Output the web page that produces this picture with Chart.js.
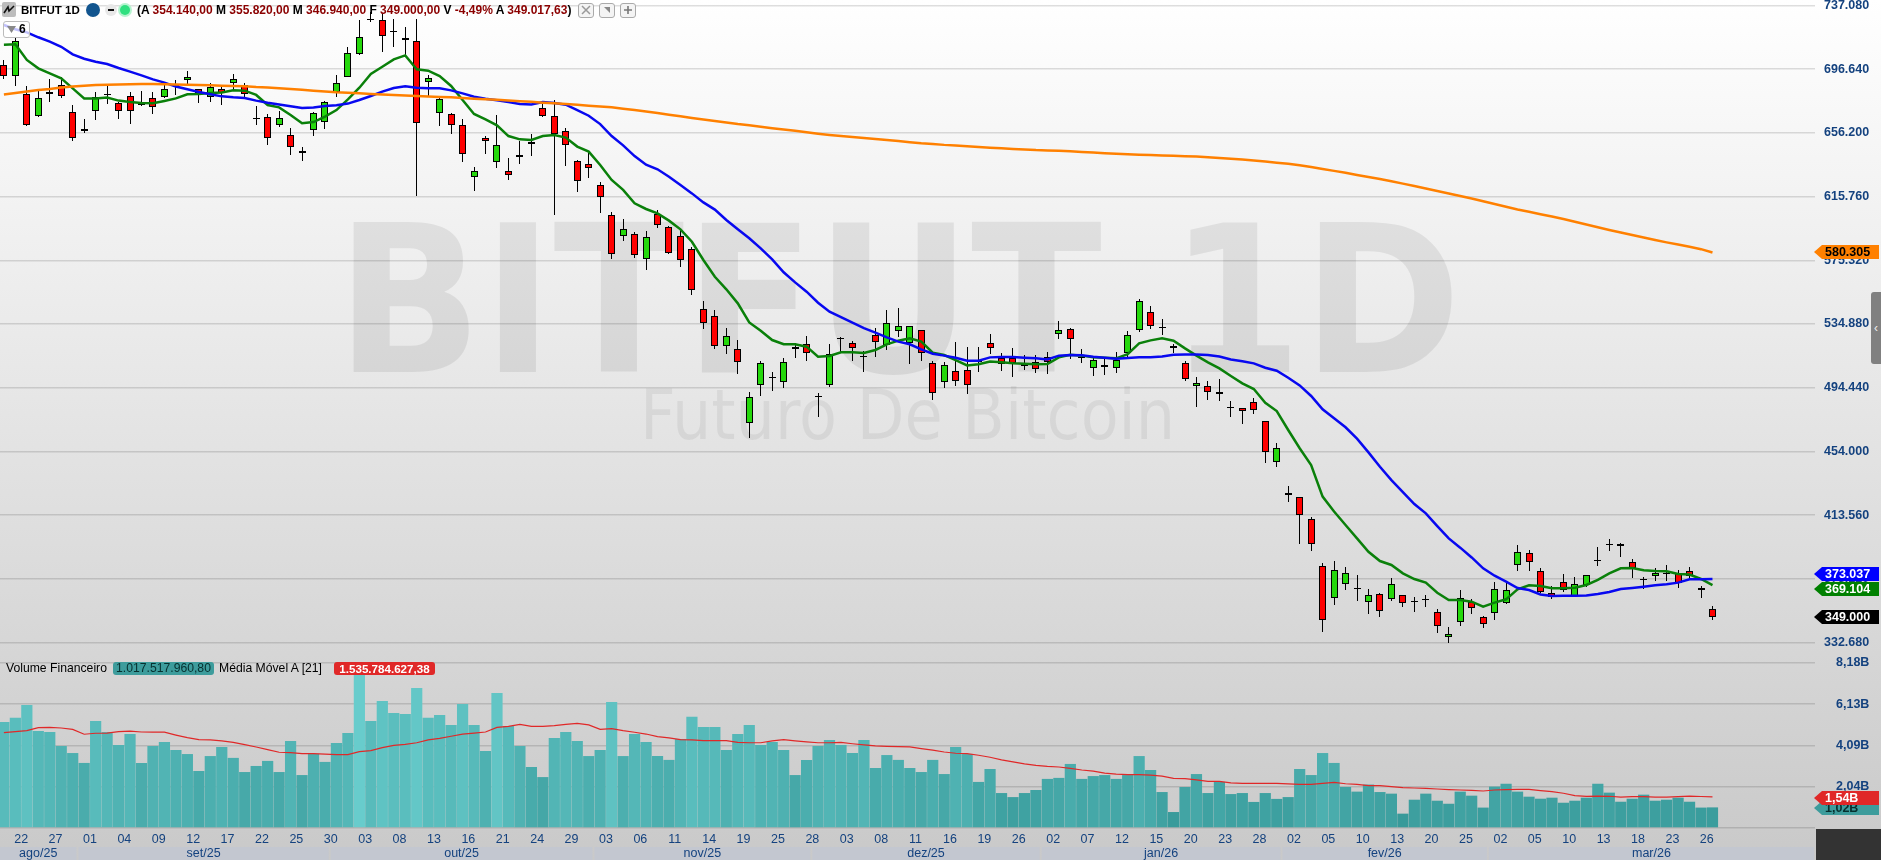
<!DOCTYPE html>
<html>
<head>
<meta charset="utf-8">
<title>BITFUT 1D</title>
<script src="https://cdn.jsdelivr.net/npm/chart.js@4"></script>
<style>
	html, body { margin: 0; padding: 0; overflow: hidden; }
	#stage { position: relative; width: 1881px; height: 860px; overflow: hidden;
		background: linear-gradient(#ffffff, #c9c9c9); font-family: "Liberation Sans", Arial, sans-serif; }
	#stage div, #stage svg { position: absolute; white-space: nowrap; }
	#graph { position: absolute; left: 0; top: 0; }
	.wmBig { left: 336px; top: 181px; font: bold 205px/240px "DejaVu Sans Condensed", "DejaVu Sans", sans-serif; color: rgba(0,0,0,0.075);
		transform: scaleX(1.04); transform-origin: left top; }
	.wmSmall { left: 640px; top: 375px; font: 69px/80px "DejaVu Sans Condensed", sans-serif; color: rgba(0,0,0,0.06); }
	.hdr { top: 3px; height: 14px; line-height: 14px; font-size: 12px; font-weight: bold; color: #000; }
	.hdr i { font-style: normal; color: #8b0000; }
	.ind { top: 662px; height: 13px; line-height: 13px; font-size: 12.2px; color: #000; }
	.pill { border-radius: 3px; text-align: center; }
	.btn { top: 3px; width: 14px; height: 13px; border: 1px solid #aaa; border-radius: 3px; background: #f4f4f4; }
</style>
</head>
<body>
<div id="stage">
	<div class="wmBig">BITFUT 1D</div>
	<div class="wmSmall">Futuro De Bitcoin</div>
	<canvas id="graph" width="1881" height="860"></canvas>

	<div style="left:2px;top:2px;width:14px;height:15px;background:#bdbdbd;border-radius:2px"></div>
	<svg style="left:3px;top:4px" width="12" height="11"><path d="M1 9 L5 3 L6 7 L11 2" stroke="#111" stroke-width="1.6" fill="none"/></svg>
	<div class="hdr" style="left:21px;font-size:11.5px">BITFUT 1D</div>
	<div style="left:86px;top:3px;width:14px;height:14px;border-radius:7px;background:#12558f"></div>
	<div style="left:105px;top:4px;width:12px;height:12px;border-radius:6px;background:#e8e8e8"></div>
	<div style="left:108px;top:9px;width:6px;height:2px;background:#111"></div>
	<div style="left:118px;top:3px;width:14px;height:14px;border-radius:7px;background:#b5f3cf"></div>
	<div style="left:120px;top:5px;width:10px;height:10px;border-radius:5px;background:#2fe07f"></div>
	<div class="hdr" style="left:137px">(A <i>354.140,00</i> M <i>355.820,00</i> M <i>346.940,00</i> F <i>349.000,00</i> V <i>-4,49%</i> A <i>349.017,63</i>)</div>
	<div class="btn" style="left:578px"></div>
	<div class="btn" style="left:599px"></div>
	<div class="btn" style="left:620px"></div>
	<svg style="left:581px;top:5px" width="10" height="10"><path d="M1 1 L9 9 M9 1 L1 9" stroke="#999" stroke-width="1.5"/></svg>
	<svg style="left:602px;top:5px" width="10" height="10"><path d="M2 2 L8 2 L8 8 Z" fill="#888"/></svg>
	<svg style="left:623px;top:5px" width="10" height="10"><path d="M5 1 L5 9 M1 5 L9 5" stroke="#777" stroke-width="1.6"/></svg>

	<div style="left:3px;top:21px;width:25px;height:15px;border:1px solid #bbb;border-radius:3px;background:rgba(255,255,255,0.75)"></div>
	<svg style="left:7px;top:26px" width="10" height="8"><path d="M0 0 L9 0 L4.5 7 Z" fill="#888"/></svg>
	<div style="left:19px;top:22px;font-size:12px;line-height:15px;font-weight:bold;color:#000">6</div>

	<div class="ind" style="left:6px">Volume Financeiro</div>
	<div class="ind pill" style="left:113px;width:101px;background:#3d9c9c;color:#06302f">1.017.517.960,80</div>
	<div class="ind" style="left:219px">Média Móvel A [21]</div>
	<div class="ind pill" style="left:334px;width:101px;background:#e02828;color:#fff;font-weight:bold;font-size:11.6px">1.535.784.627,38</div>

	<div style="left:1871px;top:292px;width:10px;height:72px;background:#808080;border-radius:3px 0 0 3px;color:#eee;font-size:12px;line-height:72px;text-align:center">‹</div>
	<div style="left:1816px;top:829px;width:65px;height:31px;background:#333333"></div>
</div>

<script>
// preços em milhares, um valor por pregão (150 candles)
const opens = [
	699.1,692.1,680.7,666.7,681.9,686.4,669.3,658.5,669.9,680.9,
	675.0,679.8,674.8,678.1,678.8,686.8,689.6,683.9,679.0,683.9,
	687.7,686.8,665.8,666.5,661.4,654.7,644.5,658.0,662.9,682.4,
	691.9,706.1,728.7,727.7,721.1,716.2,714.7,688.3,668.6,668.0,
	661.0,628.0,652.8,637.5,631.8,641.9,650.2,671.8,667.1,657.6,
	638.6,636.2,622.9,603.9,591.0,592.2,575.9,604.7,596.2,590.5,
	582.3,544.2,540.2,520.9,518.8,471.8,495.9,501.2,497.9,518.8,
	522.4,489.4,496.4,526.0,522.6,514.5,527.7,521.6,530.2,522.6,
	530.9,510.3,497.9,505.3,505.9,511.3,523.0,513.5,513.5,509.2,
	510.9,514.1,528.3,531.5,514.1,507.2,508.6,506.7,516.3,531.3,
	542.7,533.2,520.7,509.9,495.3,495.7,490.2,482.2,481.3,485.1,
	473.1,447.1,427.4,424.8,410.9,381.0,360.7,369.6,367.5,358.2,
	363.3,360.1,362.6,359.0,360.3,351.8,336.0,345.5,358.2,349.1,
	351.2,357.5,381.7,389.3,378.3,364.3,370.9,362.4,369.4,385.3,
	395.4,395.0,384.0,373.0,375.1,377.0,377.0,378.3,367.1,354.14
];
const highs = [
	702.5,716.2,686.0,683.4,690.4,691.5,673.9,665.0,681.9,686.0,
	676.0,681.9,682.8,681.9,686.6,689.8,695.5,683.9,687.7,685.1,
	693.6,688.1,673.3,668.2,670.3,659.1,647.0,669.7,676.4,693.0,
	711.0,727.9,733.2,732.1,728.5,723.2,728.5,693.0,678.1,668.6,
	664.8,634.3,654.2,667.6,640.1,651.3,655.5,674.6,677.1,659.1,
	639.0,644.3,625.2,606.0,601.5,593.1,593.9,607.2,597.3,594.6,
	584.0,549.5,543.8,532.3,524.7,491.5,511.4,504.6,513.1,523.0,
	527.3,490.9,521.9,526.6,524.1,517.7,532.1,543.8,544.8,533.4,
	531.1,511.6,510.8,523.2,520.3,520.1,528.7,516.3,519.4,515.2,
	515.2,517.3,536.6,532.1,519.0,513.7,514.1,516.9,530.4,550.5,
	546.3,538.0,522.0,511.4,501.0,498.7,499.7,486.0,481.3,487.9,
	473.1,459.1,432.0,424.8,412.1,382.9,384.4,380.4,375.5,366.6,
	364.3,373.4,362.6,361.8,362.8,353.7,342.7,366.0,360.1,349.5,
	371.3,371.7,394.6,391.4,379.8,368.6,376.0,374.1,375.7,393.1,
	398.2,395.6,385.5,374.5,379.8,381.9,378.7,380.8,368.5,355.82
];
const lows = [
	690.2,686.0,660.6,666.1,676.0,678.3,651.3,655.9,664.4,674.8,
	665.0,661.9,673.5,668.2,678.1,680.3,686.0,675.4,676.0,673.9,
	683.9,678.8,661.2,648.5,660.2,642.2,638.6,654.2,658.7,678.8,
	691.5,705.4,726.6,707.8,711.0,705.6,616.4,678.8,660.6,655.5,
	637.9,619.5,643.0,634.1,626.3,636.5,641.5,666.1,604.1,635.4,
	618.9,627.8,605.6,576.4,587.6,576.6,569.2,595.6,579.1,570.9,
	553.5,531.9,518.8,516.0,503.4,462.5,489.4,492.6,494.0,513.5,
	511.6,476.0,495.1,516.7,511.6,504.6,514.1,518.4,526.8,509.7,
	511.6,486.6,494.0,495.7,490.7,504.6,515.8,505.2,501.4,505.7,
	504.0,503.1,525.3,512.4,510.3,501.9,502.5,504.0,514.1,530.0,
	531.9,527.9,516.2,498.9,482.4,486.6,486.2,475.8,471.6,477.8,
	446.6,444.1,421.9,395.2,391.0,339.6,356.5,366.0,359.0,351.0,
	349.1,359.2,355.4,352.2,355.4,338.7,332.6,343.4,351.0,342.1,
	347.2,357.1,378.3,378.3,363.9,360.5,365.0,361.8,367.7,381.5,
	391.0,387.2,373.8,366.9,371.9,371.9,367.5,373.0,361.1,346.94
];
const closes = [
	692.3,714.7,661.0,678.1,681.1,679.6,652.8,657.2,679.2,680.1,
	669.9,669.9,673.6,672.4,683.9,686.0,691.5,681.3,685.6,681.5,
	690.6,680.9,665.0,652.8,665.4,647.0,643.7,669.0,676.0,688.1,
	707.1,717.3,727.7,717.7,720.3,715.0,662.3,690.8,677.5,661.0,
	642.6,631.8,650.8,648.3,629.3,641.1,649.2,667.1,655.3,648.3,
	625.4,633.7,615.3,579.5,595.4,578.9,589.9,597.5,579.7,575.3,
	556.3,535.3,520.7,527.0,510.5,488.3,509.9,500.4,511.0,520.5,
	516.3,488.6,516.1,525.2,519.4,513.7,523.2,535.3,533.4,533.4,
	516.3,490.9,508.6,498.5,495.9,510.5,519.4,509.5,509.9,508.4,
	506.1,510.5,531.3,525.6,513.1,512.0,507.6,512.0,528.1,549.3,
	533.4,532.4,519.4,500.2,497.2,491.5,491.5,481.4,479.4,480.1,
	453.4,456.0,426.1,413.4,395.0,347.2,378.5,376.6,366.7,362.6,
	352.5,369.6,357.5,358.2,359.5,343.0,337.9,361.1,354.8,344.4,
	366.9,365.8,390.3,384.0,364.5,361.8,366.0,370.0,375.3,384.5,
	394.6,394.2,379.8,372.2,377.0,376.2,370.7,374.9,366.0,349.0
];

// médias móveis
const maBlue = [
	724.7,722.0,720.0,716.9,714.1,710.9,706.1,703.3,701.4,699.9,
	697.4,695.1,692.7,690.2,688.1,685.6,683.9,682.2,680.7,679.4,
	678.8,678.4,676.7,675.4,674.3,673.1,672.0,672.4,673.3,673.7,
	674.8,677.1,679.6,682.4,684.7,685.8,684.9,684.5,684.5,683.2,
	681.3,679.2,677.9,676.9,675.8,674.6,674.3,675.8,675.2,674.1,
	670.7,667.1,661.8,654.2,648.3,641.5,636.0,633.1,628.4,623.1,
	617.8,612.1,607.5,600.9,595.0,589.3,582.9,575.9,567.7,561.3,
	555.4,548.4,542.7,539.3,535.7,532.3,529.4,526.4,523.7,522.0,
	518.8,516.0,514.8,513.5,511.6,511.6,513.7,513.9,513.9,513.5,
	513.1,512.4,514.8,515.2,515.0,514.1,513.5,512.9,513.3,513.7,
	513.7,514.3,515.4,515.6,515.6,515.2,514.3,512.4,511.2,509.9,
	507.1,505.2,500.8,495.9,489.2,480.7,475.0,469.3,462.1,453.4,
	444.3,435.8,428.2,420.6,414.7,406.6,398.8,392.9,386.7,379.8,
	375.1,371.3,367.3,366.0,363.2,362.2,362.4,362.4,362.6,363.5,
	364.7,366.6,367.3,368.1,369.0,369.6,370.7,372.8,372.8,373.04
];
const maGreen = [
	712.2,712.4,702.5,697.2,694.0,690.8,684.5,678.1,678.1,678.6,
	676.7,675.8,675.2,675.0,676.5,678.1,680.7,680.9,681.5,681.9,
	683.2,683.0,680.3,673.9,672.4,667.6,662.3,663.1,666.5,670.7,
	677.5,684.9,693.6,698.2,702.9,705.4,696.6,695.7,692.3,686.0,
	677.1,668.2,664.8,661.0,654.2,652.1,651.7,654.2,654.9,653.2,
	647.5,644.3,635.8,626.3,620.0,611.5,607.9,605.1,600.5,595.0,
	587.1,575.5,564.9,556.9,548.0,535.9,530.6,524.7,522.0,522.0,
	520.5,514.1,514.6,516.9,516.9,516.5,518.4,522.0,524.3,525.8,
	523.7,516.7,515.2,512.0,508.6,509.3,511.0,510.6,509.9,509.7,
	509.3,509.5,513.7,515.4,514.8,513.7,513.5,513.1,515.8,522.6,
	524.5,525.8,524.3,519.4,514.8,510.5,506.7,501.9,497.2,493.6,
	484.9,479.6,467.6,456.0,445.4,425.3,415.8,407.3,398.8,390.3,
	384.4,381.9,376.6,373.0,370.7,364.3,359.7,359.7,358.6,355.4,
	358.0,360.1,366.4,369.0,368.6,367.1,367.1,367.5,369.2,372.4,
	376.6,379.8,380.0,378.5,378.1,377.9,376.2,375.8,373.0,369.10
];
const maOrange = [
	680.6,681.5,682.5,683.4,684.1,685.0,685.7,686.2,686.6,686.8,
	687.0,687.1,687.2,687.2,687.1,686.9,686.7,686.6,686.4,686.2,
	686.0,685.8,685.3,685.0,684.5,684.1,683.6,683.0,682.5,682.0,
	681.7,681.3,680.9,680.6,680.3,680.0,679.6,679.3,679.0,678.8,
	678.4,677.9,677.5,677.2,676.8,676.3,675.9,675.4,675.0,674.5,
	674.0,673.5,673.0,672.5,671.6,670.7,669.8,668.8,667.7,666.7,
	665.7,664.7,663.8,662.8,661.8,661.0,660.1,659.2,658.4,657.5,
	656.6,655.7,654.9,654.2,653.6,653.0,652.3,651.7,651.0,650.3,
	649.6,649.2,648.6,648.2,647.7,647.2,646.8,646.4,646.0,645.7,
	645.3,645.1,644.8,644.5,644.1,643.7,643.3,643.0,642.7,642.4,
	642.2,641.9,641.7,641.4,641.2,640.8,640.3,639.8,639.3,638.7,
	638.0,637.3,636.6,635.6,634.5,633.3,632.1,630.9,629.5,628.2,
	626.9,625.5,624.0,622.5,620.9,619.3,617.7,616.1,614.6,612.8,
	611.1,609.3,607.6,606.1,604.6,603.1,601.5,599.8,598.0,596.3,
	594.6,593.0,591.4,589.8,588.2,586.7,585.3,583.9,582.4,580.3
];

// volume financeiro em bilhões
const volumes = [
	5.25,5.45,6.09,4.80,4.75,4.06,3.71,3.22,5.30,4.75,
	4.11,4.65,3.22,4.06,4.26,3.86,3.66,2.82,3.56,4.01,
	3.47,2.77,3.07,3.32,2.77,4.31,2.62,3.66,3.27,4.21,
	4.70,7.57,5.30,6.29,5.69,5.64,6.93,5.45,5.59,5.10,
	6.14,5.10,3.81,6.68,5.05,4.06,3.02,2.52,4.46,4.75,
	4.31,3.56,3.86,6.24,3.56,4.65,4.26,3.56,3.37,4.41,
	5.50,5.00,5.00,3.86,4.65,5.10,4.11,4.26,3.86,2.62,
	3.37,4.06,4.36,4.11,3.71,4.36,2.97,3.61,3.37,2.97,
	2.77,3.37,2.67,4.01,3.66,2.28,2.92,1.73,1.53,1.73,
	1.88,2.43,2.48,3.17,2.43,2.57,2.62,2.43,2.62,3.56,
	2.87,1.78,0.79,2.03,2.67,1.73,2.28,1.68,1.73,1.29,
	1.73,1.44,1.53,2.92,2.62,3.71,3.22,2.03,1.80,2.15,
	1.78,1.70,0.71,1.40,1.70,1.35,1.20,1.80,1.60,1.01,
	2.05,2.19,1.80,1.55,1.45,1.50,1.25,1.35,1.50,2.19,
	1.75,1.30,1.45,1.65,1.35,1.40,1.50,1.30,1.01,1.02
];
const volumeMa = [
	4.72,4.77,4.82,4.97,4.98,4.95,4.88,4.64,4.69,4.70,
	4.77,4.79,4.75,4.74,4.74,4.60,4.47,4.37,4.36,4.31,
	4.24,4.13,4.01,3.88,3.75,3.73,3.68,3.68,3.66,3.63,
	3.63,3.78,3.83,3.98,4.09,4.14,4.22,4.36,4.44,4.54,
	4.65,4.70,4.75,4.98,5.03,5.13,5.03,5.03,5.07,5.13,
	5.18,5.10,4.88,4.92,4.82,4.74,4.65,4.52,4.46,4.37,
	4.36,4.32,4.32,4.32,4.24,4.22,4.22,4.31,4.37,4.31,
	4.26,4.22,4.22,4.24,4.17,4.11,4.06,4.04,4.03,4.01,
	3.93,3.85,3.76,3.70,3.68,3.60,3.50,3.37,3.27,3.17,
	3.10,3.05,3.02,2.95,2.87,2.81,2.72,2.67,2.64,2.64,
	2.62,2.57,2.46,2.44,2.38,2.31,2.31,2.23,2.21,2.21,
	2.21,2.21,2.18,2.16,2.16,2.21,2.26,2.19,2.16,2.10,
	2.10,2.05,2.00,1.98,1.96,1.93,1.90,1.88,1.86,1.83,
	1.88,1.90,1.91,1.91,1.85,1.80,1.72,1.60,1.57,1.58,
	1.57,1.53,1.55,1.55,1.53,1.53,1.55,1.58,1.56,1.536
];

// eixo x: um rótulo a cada 3 candles, começando no candle 2
const xTickLabels = [
	"22","27","01","04","09","12","17","22","25","30",
	"03","08","13","16","21","24","29","03","06","11",
	"14","19","25","28","03","08","11","16","19","26",
	"02","07","12","15","20","23","28","02","05","10",
	"13","20","25","02","05","10","13","18","23","26"
];
const monthLabels = ["ago/25","set/25","out/25","nov/25","dez/25","jan/26","fev/26","mar/26"];
const monthFirstBar = [0,7,29,52,71,91,112,130];

const priceTicks = [737.08,696.64,656.2,615.76,575.32,534.88,494.44,454,413.56,373.12,332.68];
const volumeTicks = [8.18,6.13,4.09,2.04,0];

const barCount = closes.length;
const navy = "#14427f";
const axisFamily = "'Liberation Sans', Arial, sans-serif";
const narrowFamily = "'Liberation Sans Narrow', 'Liberation Sans', sans-serif";

function isDoji(i) {
	return Math.abs(opens[i] - closes[i]) <= 0.85;
}

function bodyColor(ctx) {
	let i = ctx.dataIndex;
	if (isDoji(i)) return "#000000";
	return closes[i] > opens[i] ? "#25d80c" : "#ff0000";
}

// barra mais alta = teal mais claro
function volumeColor(ctx) {
	let t = (volumes[ctx.dataIndex] - 0.8) / 6.8;
	let r = Math.round(57 + t * 47);
	let g = Math.round(155 + t * 49);
	return "rgb(" + r + "," + g + "," + g + ")";
}

function lineSet(label, values, color, width, axis, order) {
	return {
		type: "line",
		label: label,
		data: values.map((v, i) => ({ x: i, y: v })),
		borderColor: color,
		borderWidth: width,
		pointRadius: 0,
		tension: 0,
		fill: false,
		yAxisID: axis,
		order: order
	};
}

// tira o padding que o chart.js reserva para os rótulos
function fitAxisY(scale) {
	scale.width = 66;
	scale.paddingTop = 0;
	scale.paddingBottom = 0;
}

// encaixa wick e corpo no pixel inteiro para ficarem nítidos
const snapCandles = {
	id: "snapCandles",
	afterDatasetsUpdate(chart) {
		[0, 1].forEach(function(k) {
			chart.getDatasetMeta(k).data.forEach(function(el) {
				el.x = Math.round(el.x - 0.5) + 0.5;
				el.y = Math.round(el.y);
				el.base = Math.round(el.base);
				if (el.y === el.base) el.base = el.y + 1;
			});
		});
	}
};

// faixa dos meses embaixo do eixo x
const monthBand = {
	id: "monthBand",
	afterDraw(chart) {
		let ctx = chart.ctx;
		let xs = chart.scales.x;
		let halfBar = (xs.getPixelForValue(1) - xs.getPixelForValue(0)) / 2;
		ctx.save();
		ctx.font = "12.5px " + narrowFamily;
		ctx.textAlign = "center";
		ctx.textBaseline = "middle";
		monthLabels.forEach(function(m, k) {
			let left = k === 0 ? 0 : xs.getPixelForValue(monthFirstBar[k]) - halfBar;
			let right = k === monthLabels.length - 1 ? xs.right - 1 : xs.getPixelForValue(monthFirstBar[k + 1]) - halfBar - 2;
			ctx.fillStyle = "#c3c7d0";
			ctx.fillRect(left, 847, right - left, 13);
			ctx.fillStyle = navy;
			ctx.fillText(m, (left + right) / 2, 854);
		});
		ctx.restore();
	}
};

// etiquetas do último valor à direita
const lastTags = [
	{ text: "1,02B", value: volumes[barCount - 1], axis: "yVol", bg: "#3d9c9c", fg: "#06302f", shift: 1 },
	{ text: "1,54B", value: volumeMa[barCount - 1], axis: "yVol", bg: "#e02828", fg: "#ffffff", shift: 1 },
	{ text: "580.305", value: maOrange[barCount - 1], axis: "y", bg: "#ff8000", fg: "#000000", shift: 0 },
	{ text: "369.104", value: maGreen[barCount - 1], axis: "y", bg: "#008000", fg: "#ffffff", shift: 4 },
	{ text: "373.037", value: maBlue[barCount - 1], axis: "y", bg: "#0000ff", fg: "#ffffff", shift: -5 },
	{ text: "349.000", value: closes[barCount - 1], axis: "y", bg: "#000000", fg: "#ffffff", shift: 0 }
];
const tagPlugin = {
	id: "tagPlugin",
	afterDraw(chart) {
		let ctx = chart.ctx;
		ctx.save();
		ctx.font = "bold 12.5px " + axisFamily;
		ctx.textBaseline = "middle";
		lastTags.forEach(function(t) {
			let y = Math.round(chart.scales[t.axis].getPixelForValue(t.value)) + t.shift;
			ctx.fillStyle = t.bg;
			ctx.beginPath();
			ctx.moveTo(1814, y);
			ctx.lineTo(1822, y - 7);
			ctx.lineTo(1879, y - 7);
			ctx.lineTo(1879, y + 7);
			ctx.lineTo(1822, y + 7);
			ctx.closePath();
			ctx.fill();
			ctx.fillStyle = t.fg;
			ctx.fillText(t.text, 1825, y + 0.5);
		});
		ctx.restore();
	}
};

new Chart(document.getElementById("graph"), {
	type: "bar",
	data: {
		datasets: [
			{
				label: "wick",
				data: highs.map((h, i) => ({ x: i, y: [lows[i], h] })),
				backgroundColor: "#000000",
				barThickness: 1,
				inflateAmount: 0,
				grouped: false,
				yAxisID: "y",
				order: 7
			},
			{
				label: "corpo",
				data: opens.map((o, i) => ({ x: i, y: [o, closes[i]] })),
				backgroundColor: bodyColor,
				borderColor: "#000000",
				borderWidth: 1,
				borderSkipped: false,
				barThickness: 7,
				inflateAmount: 0,
				grouped: false,
				yAxisID: "y",
				order: 6
			},
			lineSet("MA laranja", maOrange, "#ff8000", 2.5, "y", 3),
			lineSet("MA verde", maGreen, "#0a800a", 2.5, "y", 5),
			lineSet("MA azul", maBlue, "#0808f0", 2.5, "y", 4),
			{
				label: "Volume Financeiro",
				data: volumes.map((v, i) => ({ x: i, y: v })),
				backgroundColor: volumeColor,
				barThickness: 11.2,
				inflateAmount: 0,
				grouped: false,
				yAxisID: "yVol",
				order: 9
			},
			lineSet("Média Móvel A [21]", volumeMa, "#e02828", 1.2, "yVol", 8)
		]
	},
	plugins: [snapCandles, monthBand, tagPlugin],
	options: {
		responsive: false,
		animation: false,
		events: [],
		layout: { autoPadding: false, padding: 0 },
		plugins: { legend: { display: false }, tooltip: { enabled: false }, title: { display: false } },
		scales: {
			x: {
				type: "linear",
				offset: false,
				min: -0.34,
				max: 157.94,
				grid: { display: false, drawTicks: false },
				border: { display: false },
				afterFit: function(scale) {
					scale.height = 32;
					scale.paddingLeft = 0;
					scale.paddingRight = 0;
				},
				afterBuildTicks: function(scale) {
					scale.ticks = xTickLabels.map((t, k) => ({ value: 2 + k * 3 }));
				},
				ticks: {
					autoSkip: false,
					maxRotation: 0,
					padding: 4,
					labelOffset: -5.7,
					color: navy,
					font: { family: narrowFamily, size: 12.5 },
					callback: function(v) { return xTickLabels[(v - 2) / 3]; }
				}
			},
			y: {
				type: "linear",
				position: "right",
				stack: "painel",
				stackWeight: 652,
				min: 326.66,
				max: 740.57,
				grid: { color: "rgba(0,0,0,0.13)", lineWidth: 1.4, drawTicks: false },
				border: { display: false },
				afterFit: fitAxisY,
				afterBuildTicks: function(scale) {
					scale.ticks = priceTicks.map(v => ({ value: v }));
				},
				ticks: {
					padding: 9,
					crossAlign: "near",
					color: navy,
					font: { family: axisFamily, size: 12.5, weight: "bold" },
					callback: function(v) { return v.toFixed(3); }
				}
			},
			yVol: {
				type: "linear",
				position: "right",
				stack: "painel",
				stackWeight: 176,
				min: 0,
				max: 8.71,
				grid: { color: "rgba(0,0,0,0.13)", lineWidth: 1.4, drawTicks: false },
				border: { display: false },
				afterFit: fitAxisY,
				afterBuildTicks: function(scale) {
					scale.ticks = volumeTicks.map(v => ({ value: v }));
				},
				ticks: {
					padding: 21,
					crossAlign: "near",
					color: navy,
					font: { family: axisFamily, size: 12.5, weight: "bold" },
					callback: function(v) { return v === 0 ? "" : v.toFixed(2).replace(".", ",") + "B"; }
				}
			}
		}
	}
});
</script>
</body>
</html>
